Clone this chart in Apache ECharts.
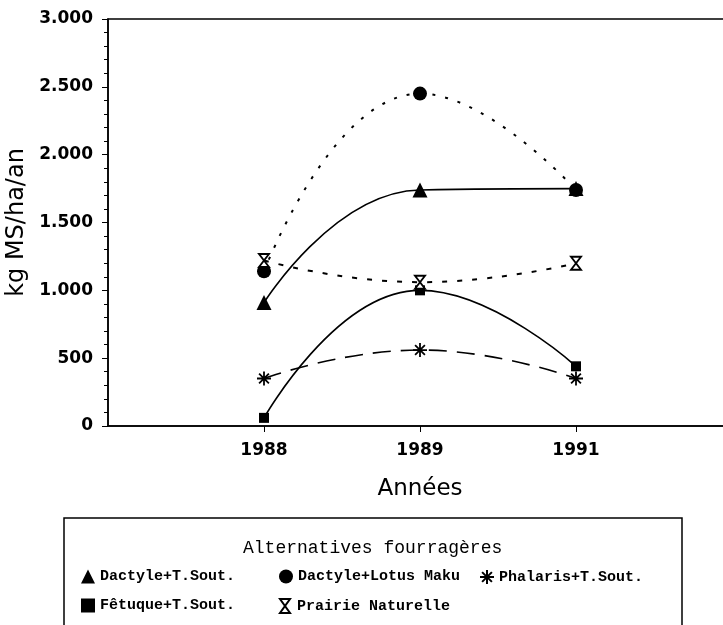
<!DOCTYPE html>
<html>
<head>
<meta charset="utf-8">
<script src="https://cdn.jsdelivr.net/npm/echarts@6/dist/echarts.min.js"></script>
<style>
html,body{margin:0;padding:0;background:#fff;}
#main{width:723px;height:625px;}
</style>
</head>
<body>
<div id="main"></div>
<script>
// ---- data ----
var years = ['1988', '1989', '1991'];
var dactyleTSout = [910, 1740, 1750];
var dactyleLotus = [1140, 2450, 1740];
var phalarisTSout = [350, 560, 350];
var fetuqueTSout = [60, 1000, 440];
var prairieNat = [1220, 1060, 1200];
var yTicks = [0, 500, 1000, 1500, 2000, 2500, 3000];
var seriesNames = ['Dactyle+T.Sout.', 'Dactyle+Lotus Maku', 'Phalaris+T.Sout.', 'Fêtuque+T.Sout.', 'Prairie Naturelle'];

// padded category axis (empty slot on each side)
var cats = [''].concat(years).concat(['']);
function pad(arr) { return [null].concat(arr).concat([null]); }

var asterisk = 'path://M5,0 L5,10 M0,5 L10,5 M1.5,1.5 L8.5,8.5 M8.5,1.5 L1.5,8.5';
var hourglass = 'path://M0,0 L10,0 L0,14 L10,14 Z';

var chart = echarts.init(document.getElementById('main'), null, {renderer: 'canvas'});

var legendText = {fontFamily: 'Liberation Mono', fontWeight: 'bold', fontSize: 15, color: '#000'};
function mkLegend(name, icon, left, top) {
  return {
    data: [{name: name, icon: icon}],
    left: left, top: top, padding: 0, itemWidth: 14, itemHeight: 14, itemGap: 5,
    selectedMode: false, textStyle: legendText
  };
}

var option = {
  backgroundColor: '#fff',
  animation: false,
  title: {
    text: 'Alternatives fourragères',
    left: 243, top: 539, padding: 0,
    textStyle: {fontFamily: 'Liberation Mono', fontWeight: 'normal', fontSize: 18, color: '#000'}
  },
  legend: [
    mkLegend(seriesNames[0], 'triangle', 81, 569),
    mkLegend(seriesNames[1], 'circle', 279, 569),
    mkLegend(seriesNames[2], asterisk, 479, 569),
    mkLegend(seriesNames[3], 'rect', 81, 598),
    mkLegend(seriesNames[4], hourglass, 279, 598)
  ],
  graphic: [{
    type: 'rect', shape: {x: 64, y: 518, width: 618, height: 130},
    style: {fill: 'none', stroke: '#000', lineWidth: 1.5}, z: 0
  }],
  grid: {left: 108, top: 19, width: 624, height: 407, outerBoundsMode: 'none', containLabel: false,
         show: true, borderColor: '#000', borderWidth: 1.5, backgroundColor: 'transparent'},
  xAxis: {
    type: 'category', data: cats, boundaryGap: false,
    name: 'Années', nameLocation: 'middle', nameGap: 52,
    nameTextStyle: {fontFamily: 'DejaVu Sans', fontSize: 23, color: '#000'},
    axisLine: {lineStyle: {color: '#000', width: 1.5}},
    axisTick: {show: true, length: 6, interval: function (i) { return i >= 1 && i <= years.length; }, lineStyle: {color: '#000', width: 1}},
    axisLabel: {interval: 0, margin: 16, fontFamily: 'DejaVu Sans', fontWeight: 'bold', fontSize: 17, color: '#000'},
    splitLine: {show: false}
  },
  yAxis: {
    type: 'value', min: yTicks[0], max: yTicks[yTicks.length - 1], interval: 500,
    name: 'kg MS/ha/an', nameLocation: 'middle', nameGap: 68,
    nameTextStyle: {fontFamily: 'DejaVu Sans', fontSize: 24, color: '#000'},
    axisLine: {show: true, lineStyle: {color: '#000', width: 1.5}},
    axisTick: {show: true, length: 6, lineStyle: {color: '#000', width: 1}},
    minorTick: {show: true, splitNumber: 5, length: 4, lineStyle: {color: '#000', width: 1}},
    axisLabel: {
      margin: 15, fontFamily: 'DejaVu Sans', fontWeight: 'bold', fontSize: 17, color: '#000',
      formatter: function (v) { return String(v).replace(/\B(?=(\d{3})+(?!\d))/g, '.'); }
    },
    splitLine: {show: false}
  },
  series: [
    {
      name: seriesNames[0], type: 'line', data: pad(dactyleTSout), smooth: 0.5,
      symbol: 'triangle', symbolSize: 15,
      lineStyle: {color: '#000', width: 1.6, type: 'solid'},
      itemStyle: {color: '#000'}
    },
    {
      name: seriesNames[1], type: 'line', data: pad(dactyleLotus), smooth: 0.5,
      symbol: 'circle', symbolSize: 14,
      lineStyle: {color: '#000', width: 2, type: [3, 10]},
      itemStyle: {color: '#000'}
    },
    {
      name: seriesNames[2], type: 'line', data: pad(phalarisTSout), smooth: 0.5,
      symbol: asterisk, symbolSize: 14,
      lineStyle: {color: '#000', width: 1.6, type: [18, 10]},
      itemStyle: {color: '#000', borderColor: '#000', borderWidth: 1.8}
    },
    {
      name: seriesNames[3], type: 'line', data: pad(fetuqueTSout), smooth: 0.5,
      symbol: 'rect', symbolSize: 10,
      lineStyle: {color: '#000', width: 1.6, type: 'solid'},
      itemStyle: {color: '#000'}
    },
    {
      name: seriesNames[4], type: 'line', data: pad(prairieNat), smooth: 0.5,
      symbol: hourglass, symbolSize: [10, 13],
      lineStyle: {color: '#000', width: 2, type: [5, 10]},
      itemStyle: {color: '#fff', borderColor: '#000', borderWidth: 1.8}
    }
  ]
};
chart.setOption(option);
</script>
</body>
</html>
